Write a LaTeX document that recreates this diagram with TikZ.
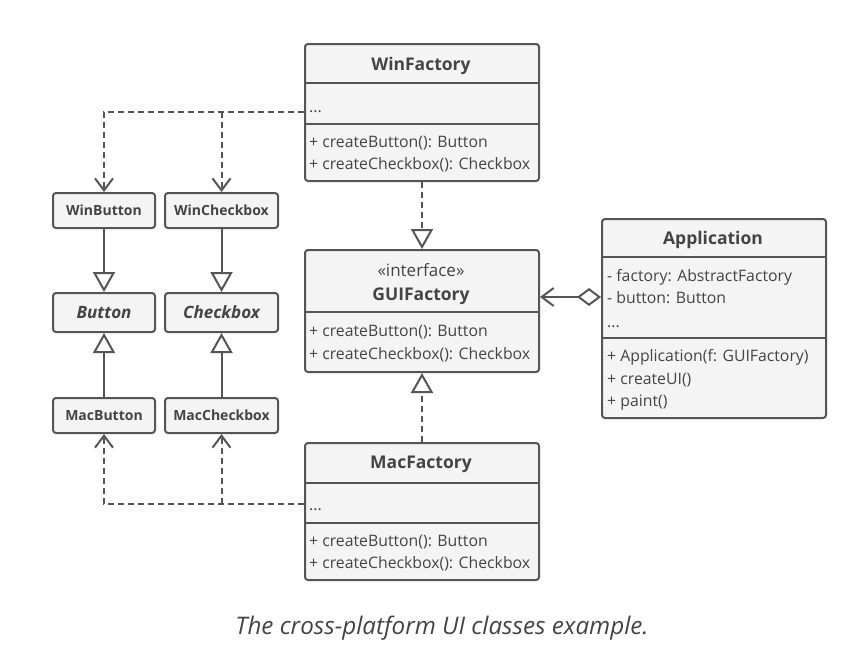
\documentclass[tikz,border=0pt]{standalone}
\usepackage{fontspec}
\setmainfont{Open Sans}
\usetikzlibrary{arrows.meta}
\definecolor{ln}{HTML}{555555}
\definecolor{bx}{HTML}{F4F4F4}
\definecolor{tx}{HTML}{444444}
\tikzset{
  frame/.style={draw=ln, fill=bx, line width=2pt, rounded corners=3pt},
  sep/.style={draw=ln, line width=2pt},
  small/.style={frame, minimum height=35pt, inner sep=0pt, font=\fontsize{14}{16}\selectfont\bfseries, text=tx},
  abs/.style={frame, minimum height=39pt, inner sep=0pt, font=\fontsize{17}{19}\selectfont\bfseries\itshape, text=tx},
  title/.style={inner sep=0pt, font=\fontsize{17.5}{19}\selectfont\bfseries, text=tx},
  member/.style={inner sep=0pt, anchor=base west, font=\fontsize{15.8}{18}\selectfont, text=tx},
  dep/.style={draw=ln, line width=2pt, dash pattern=on 6pt off 4pt, -{Straight Barb[length=12pt,width=18pt,line width=2pt]}},
  real/.style={draw=ln, line width=2pt, dash pattern=on 6pt off 4pt, -{Triangle[open,length=20pt,width=22pt,line width=2pt,fill=white]}},
  inh/.style={draw=ln, line width=2pt, -{Triangle[open,length=20pt,width=22pt,line width=2pt,fill=white]}},
  agg/.style={draw=ln, line width=2pt, {Diamond[open,length=24pt,width=18pt,line width=2pt,fill=white]}-{Straight Barb[length=12pt,width=18pt,line width=2pt]}},
}
\begin{document}
\begin{tikzpicture}[x=1pt,y=-1pt]
\useasboundingbox (0,0) rectangle (868,672);
% WinFactory
\node[frame, minimum width=234pt, minimum height=137pt, inner sep=0pt, anchor=north west] (wf) at (304,43) {};
\draw[sep] (304,83) -- (538,83);
\draw[sep] (304,124) -- (538,124);
\node[title] (wft) at (421,65.5) {WinFactory};
\node[member] (wfa) at (309,112) {...};
\node[member] (wfm1) at (309,147) {+ createButton(): Button};
\node[member] (wfm2) at (309,169) {+ createCheckbox(): Checkbox};
% GUIFactory
\node[frame, minimum width=234pt, minimum height=122pt, inner sep=0pt, anchor=north west] (gf) at (304,249) {};
\draw[sep] (304,312) -- (538,312);
\node[inner sep=0pt, font=\fontsize{17}{19}\selectfont, text=tx] (gfs) at (421,270) {«interface»};
\node[title] (gft) at (421,296.5) {GUIFactory};
\node[member] (gfm1) at (309,336) {+ createButton(): Button};
\node[member] (gfm2) at (309,359) {+ createCheckbox(): Checkbox};
% MacFactory
\node[frame, minimum width=234pt, minimum height=137pt, inner sep=0pt, anchor=north west] (mf) at (304,442) {};
\draw[sep] (304,483) -- (538,483);
\draw[sep] (304,523) -- (538,523);
\node[title] (mft) at (421,464.5) {MacFactory};
\node[member] (mfa) at (309,510) {...};
\node[member] (mfm1) at (309,546) {+ createButton(): Button};
\node[member] (mfm2) at (309,568) {+ createCheckbox(): Checkbox};
% Application
\node[frame, minimum width=224pt, minimum height=199pt, inner sep=0pt, anchor=north west] (app) at (601,218) {};
\draw[sep] (601,257) -- (825,257);
\draw[sep] (601,338) -- (825,338);
\node[title] (appt) at (713,239.5) {Application};
\node[member] (appa1) at (607,281) {- factory: AbstractFactory};
\node[member] (appa2) at (607,303) {- button: Button};
\node[member] (appa3) at (607,327) {...};
\node[member] (appm1) at (607,361) {+ Application(f: GUIFactory)};
\node[member] (appm2) at (607,384) {+ createUI()};
\node[member] (appm3) at (607,406) {+ paint()};
% products
\node[small, minimum width=102pt] (wb) at (104,210.5) {WinButton};
\node[small, minimum width=113pt] (wc) at (221.5,210.5) {WinCheckbox};
\node[abs, minimum width=102pt] (b) at (104,312.5) {Button};
\node[abs, minimum width=113pt] (c) at (221.5,312.5) {Checkbox};
\node[small, minimum width=102pt] (mb) at (104,415.5) {MacButton};
\node[small, minimum width=113pt] (mc) at (221.5,415.5) {MacCheckbox};
% connectors
\coordinate (wfd) at (304,112);
\coordinate (mfd) at (304,504);
\coordinate (wfj) at (wc |- wfd);
\coordinate (mfj) at (mc |- mfd);
\draw[dep] (wfd) -| (wb.north);
\draw[dep] (wfj) -- (wc.north);
\draw[dep] (mfd) -| (mb.south);
\draw[dep] (mfj) -- (mc.south);
\draw[real] (wf.south) -- (gf.north);
\draw[real] (mf.north) -- (gf.south);
\draw[inh] (wb.south) -- (b.north);
\draw[inh] (wc.south) -- (c.north);
\draw[inh] (mb.north) -- (b.south);
\draw[inh] (mc.north) -- (c.south);
\draw[agg] (app.west |- 0,297) -- (gf.east |- 0,297);
% caption
\node[inner sep=0pt, font=\fontsize{24.2}{27}\selectfont\itshape, text=tx] (cap) at (442,628) {The cross-platform UI classes example.};
\end{tikzpicture}
\end{document}
